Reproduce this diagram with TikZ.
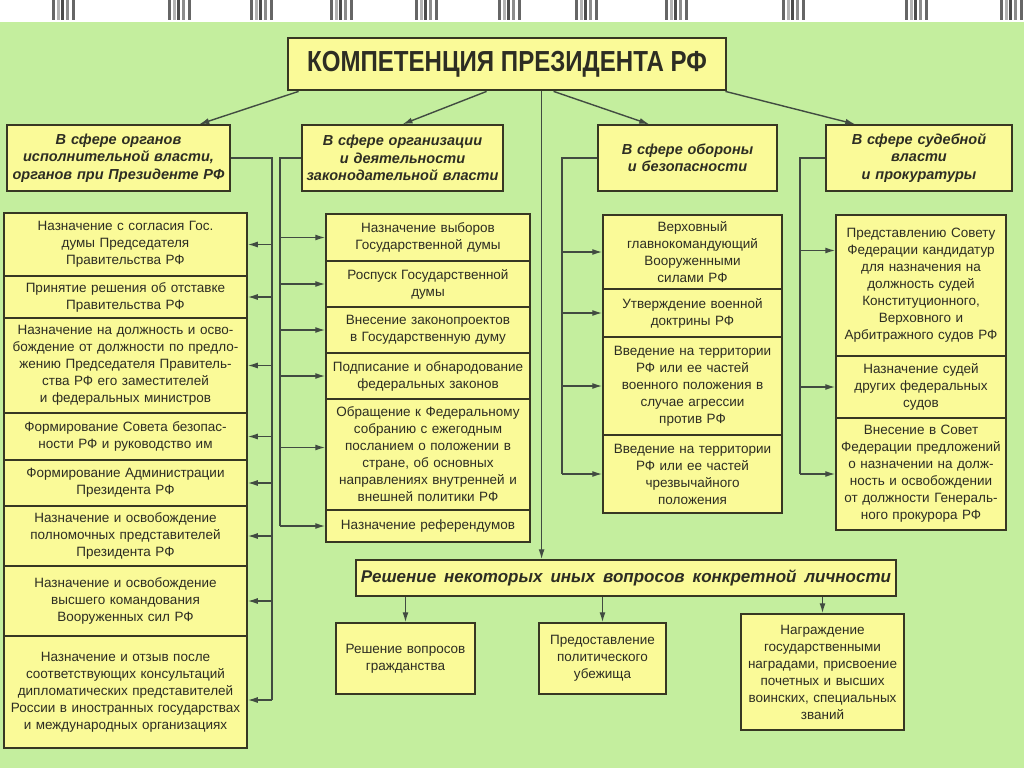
\documentclass[tikz,border=0pt]{standalone}
\usepackage{fontspec}
\setmainfont{Liberation Sans}
\newfontfamily\titlefont[FakeStretch=0.83]{Liberation Sans}
\usetikzlibrary{arrows.meta}
\definecolor{BgGreen}{RGB}{196,238,158}
\definecolor{BoxYellow}{RGB}{250,250,152}
\definecolor{EdgeDark}{RGB}{55,55,35}
\definecolor{LinkGray}{RGB}{65,75,65}
\definecolor{InkDark}{RGB}{45,45,35}

\begin{document}
\begin{tikzpicture}[x=1pt,y=-1pt,
  box/.style={draw=EdgeDark, line width=1.5pt, fill=BoxYellow, text=InkDark,
    align=center, inner xsep=3pt, inner ysep=0pt},
  catbox/.style={box, minimum height=66pt,
    font=\fontsize{14.5}{17.5}\selectfont\bfseries\itshape},
  itembox/.style={box, font=\fontsize{13.5}{17}\selectfont},
  ecol/.style={itembox, minimum width=243pt, text width=237pt},
  lcol/.style={itembox, minimum width=204pt, text width=198pt},
  dcol/.style={itembox, minimum width=179pt, text width=173pt},
  jcol/.style={itembox, minimum width=170pt, text width=164pt},
  link/.style={draw=LinkGray, line width=1.4pt},
  arr/.style={link, -{Latex[length=10pt,width=6pt]}}]
\useasboundingbox (0,0) rectangle (1024,768);
\fill[BgGreen] (0,22) rectangle (1024,768);
\fill[white] (0,0) rectangle (1024,22);
% scanned strip on top
\foreach \g in {52,168,250,330,415,498,575,665,782,905,1000}{
  \foreach \d/\t in {0/60,5/30,9/70,14/45,20/60}{
    \fill[black!\t] (\g+\d,0) rectangle (\g+\d+2.5,20);
  }
}

% title
\node[box, line width=2.8pt, minimum width=438pt, minimum height=52pt,
  font=\titlefont\bfseries\fontsize{29}{31}\selectfont] (title) at (507,64)
  {КОМПЕТЕНЦИЯ ПРЕЗИДЕНТА РФ};

% spheres
\node[catbox, minimum width=223pt, text width=217pt] (cat1) at (118.5,158)
  {В сфере органов\\исполнительной власти,\\органов при Президенте РФ};
\node[catbox, minimum width=201pt, text width=195pt] (cat2) at (402.5,158)
  {В сфере организации\\и деятельности\\законодательной власти};
\node[catbox, minimum width=179pt, text width=173pt] (cat3) at (687.5,158)
  {В сфере обороны\\и безопасности\\[12pt]};
\node[catbox, minimum width=186pt, text width=180pt] (cat4) at (919,158)
  {В сфере судебной\\власти\\и прокуратуры};

% executive power
\node[ecol, minimum height=63pt] (e1) at (125.5,244.5)
  {Назначение с согласия Гос.\\думы Председателя\\Правительства РФ};
\node[ecol, minimum height=42pt] (e2) at (125.5,297)
  {Принятие решения об отставке\\Правительства РФ};
\node[ecol, minimum height=95pt] (e3) at (125.5,365.5)
  {Назначение на должность и осво-\\бождение от должности по предло-\\жению Председателя Правитель-\\ства РФ его заместителей\\и федеральных министров};
\node[ecol, minimum height=47pt] (e4) at (125.5,436.5)
  {Формирование Совета безопас-\\ности РФ и руководство им};
\node[ecol, minimum height=46pt] (e5) at (125.5,483)
  {Формирование Администрации\\Президента РФ};
\node[ecol, minimum height=60pt] (e6) at (125.5,536)
  {Назначение и освобождение\\полномочных представителей\\Президента РФ};
\node[ecol, minimum height=70pt] (e7) at (125.5,601)
  {Назначение и освобождение\\высшего командования\\Вооруженных сил РФ};
\node[ecol, minimum height=112pt] (e8) at (125.5,692)
  {Назначение и отзыв после\\соответствующих консультаций\\дипломатических представителей\\России в иностранных государствах\\и международных организациях};

% legislative power
\node[lcol, minimum height=47pt] (l1) at (428,237.5)
  {Назначение выборов\\Государственной думы};
\node[lcol, minimum height=46pt] (l2) at (428,284)
  {Роспуск Государственной\\думы};
\node[lcol, minimum height=46pt] (l3) at (428,330)
  {Внесение законопроектов\\в Государственную думу};
\node[lcol, minimum height=46pt] (l4) at (428,376)
  {Подписание и обнародование\\федеральных законов};
\node[lcol, minimum height=111pt] (l5) at (428,454.5)
  {Обращение к Федеральному\\собранию с ежегодным\\посланием о положении в\\стране, об основных\\направлениях внутренней и\\внешней политики РФ};
\node[lcol, minimum height=32pt] (l6) at (428,526)
  {Назначение референдумов};

% defence
\node[dcol, minimum height=74pt] (d1) at (692.5,252)
  {Верховный\\главнокомандующий\\Вооруженными\\силами РФ};
\node[dcol, minimum height=48pt] (d2) at (692.5,313)
  {Утверждение военной\\доктрины РФ};
\node[dcol, minimum height=98pt] (d3) at (692.5,386)
  {Введение на территории\\РФ или ее частей\\военного положения в\\случае агрессии\\против РФ};
\node[dcol, minimum height=78pt] (d4) at (692.5,474)
  {Введение на территории\\РФ или ее частей\\чрезвычайного\\положения};

% judicial power
\node[jcol, minimum height=141pt] (j1) at (921,285.5)
  {Представлению Совету\\Федерации кандидатур\\для назначения на\\должность судей\\Конституционного,\\Верховного и\\Арбитражного судов РФ};
\node[jcol, minimum height=62pt] (j2) at (921,387)
  {Назначение судей\\других федеральных\\судов};
\node[jcol, minimum height=112pt] (j3) at (921,474)
  {Внесение в Совет\\Федерации предложений\\о назначении на долж-\\ность и освобождении\\от должности Генераль-\\ного прокурора РФ};

% other questions
\node[box, minimum width=540pt, minimum height=36pt,
  font=\fontsize{17}{20}\selectfont\bfseries\itshape] (other) at (626,578)
  {\spaceskip=8pt plus 1pt Решение некоторых иных вопросов конкретной личности};
\node[itembox, minimum width=139pt, text width=133pt, minimum height=71pt] (b1) at (405.5,658.5)
  {Решение вопросов\\гражданства};
\node[itembox, minimum width=127pt, text width=121pt, minimum height=71pt] (b2) at (602.5,658.5)
  {Предоставление\\политического\\убежища};
\node[itembox, minimum width=163pt, text width=157pt, minimum height=116pt] (b3) at (822.5,672)
  {Награждение\\государственными\\наградами, присвоение\\почетных и высших\\воинских, специальных\\званий};

% from title
\draw[arr] ([xshift=12pt]title.south west) -- ([xshift=193pt]cat1.north west);
\draw[arr] ([xshift=200pt]title.south west) -- (cat2.north);
\draw[arr] ([xshift=267pt]title.south west) -- ([xshift=52pt]cat3.north west);
\draw[arr] ([xshift=-2pt]title.south east) -- ([xshift=30pt]cat4.north west);
\coordinate (vtop) at ([xshift=255pt]title.south west);
\draw[arr] (vtop) -- (vtop |- other.north);

% spines
\coordinate (sp1) at (272,0);
\coordinate (sp2) at (280,0);
\coordinate (sp3) at (562,0);
\coordinate (sp4) at (800,0);
\coordinate (e8a) at ([yshift=-8pt]e8.east);
\coordinate (l5a) at ([yshift=7pt]l5.west);
\coordinate (j1a) at ([yshift=35pt]j1.west);

\draw[link] (cat1.east) -| (sp1 |- e8a);
\foreach \n in {e1,e2,e3,e4,e5,e6,e7}
  \draw[arr] (sp1 |- \n.east) -- (\n.east);
\draw[arr] (sp1 |- e8a) -- (e8a);

\draw[link] (cat2.west) -| (sp2 |- l6.west);
\foreach \n in {l1,l2,l3,l4,l6}
  \draw[arr] (sp2 |- \n.west) -- (\n.west);
\draw[arr] (sp2 |- l5a) -- (l5a);

\draw[link] (cat3.west) -| (sp3 |- d4.west);
\foreach \n in {d1,d2,d3,d4}
  \draw[arr] (sp3 |- \n.west) -- (\n.west);

\draw[link] (cat4.west) -| (sp4 |- j3.west);
\draw[arr] (sp4 |- j1a) -- (j1a);
\foreach \n in {j2,j3}
  \draw[arr] (sp4 |- \n.west) -- (\n.west);

% down to the three boxes
\foreach \n in {b1,b2,b3}
  \draw[arr] (\n.north |- other.south) -- (\n.north);
\end{tikzpicture}
\end{document}
